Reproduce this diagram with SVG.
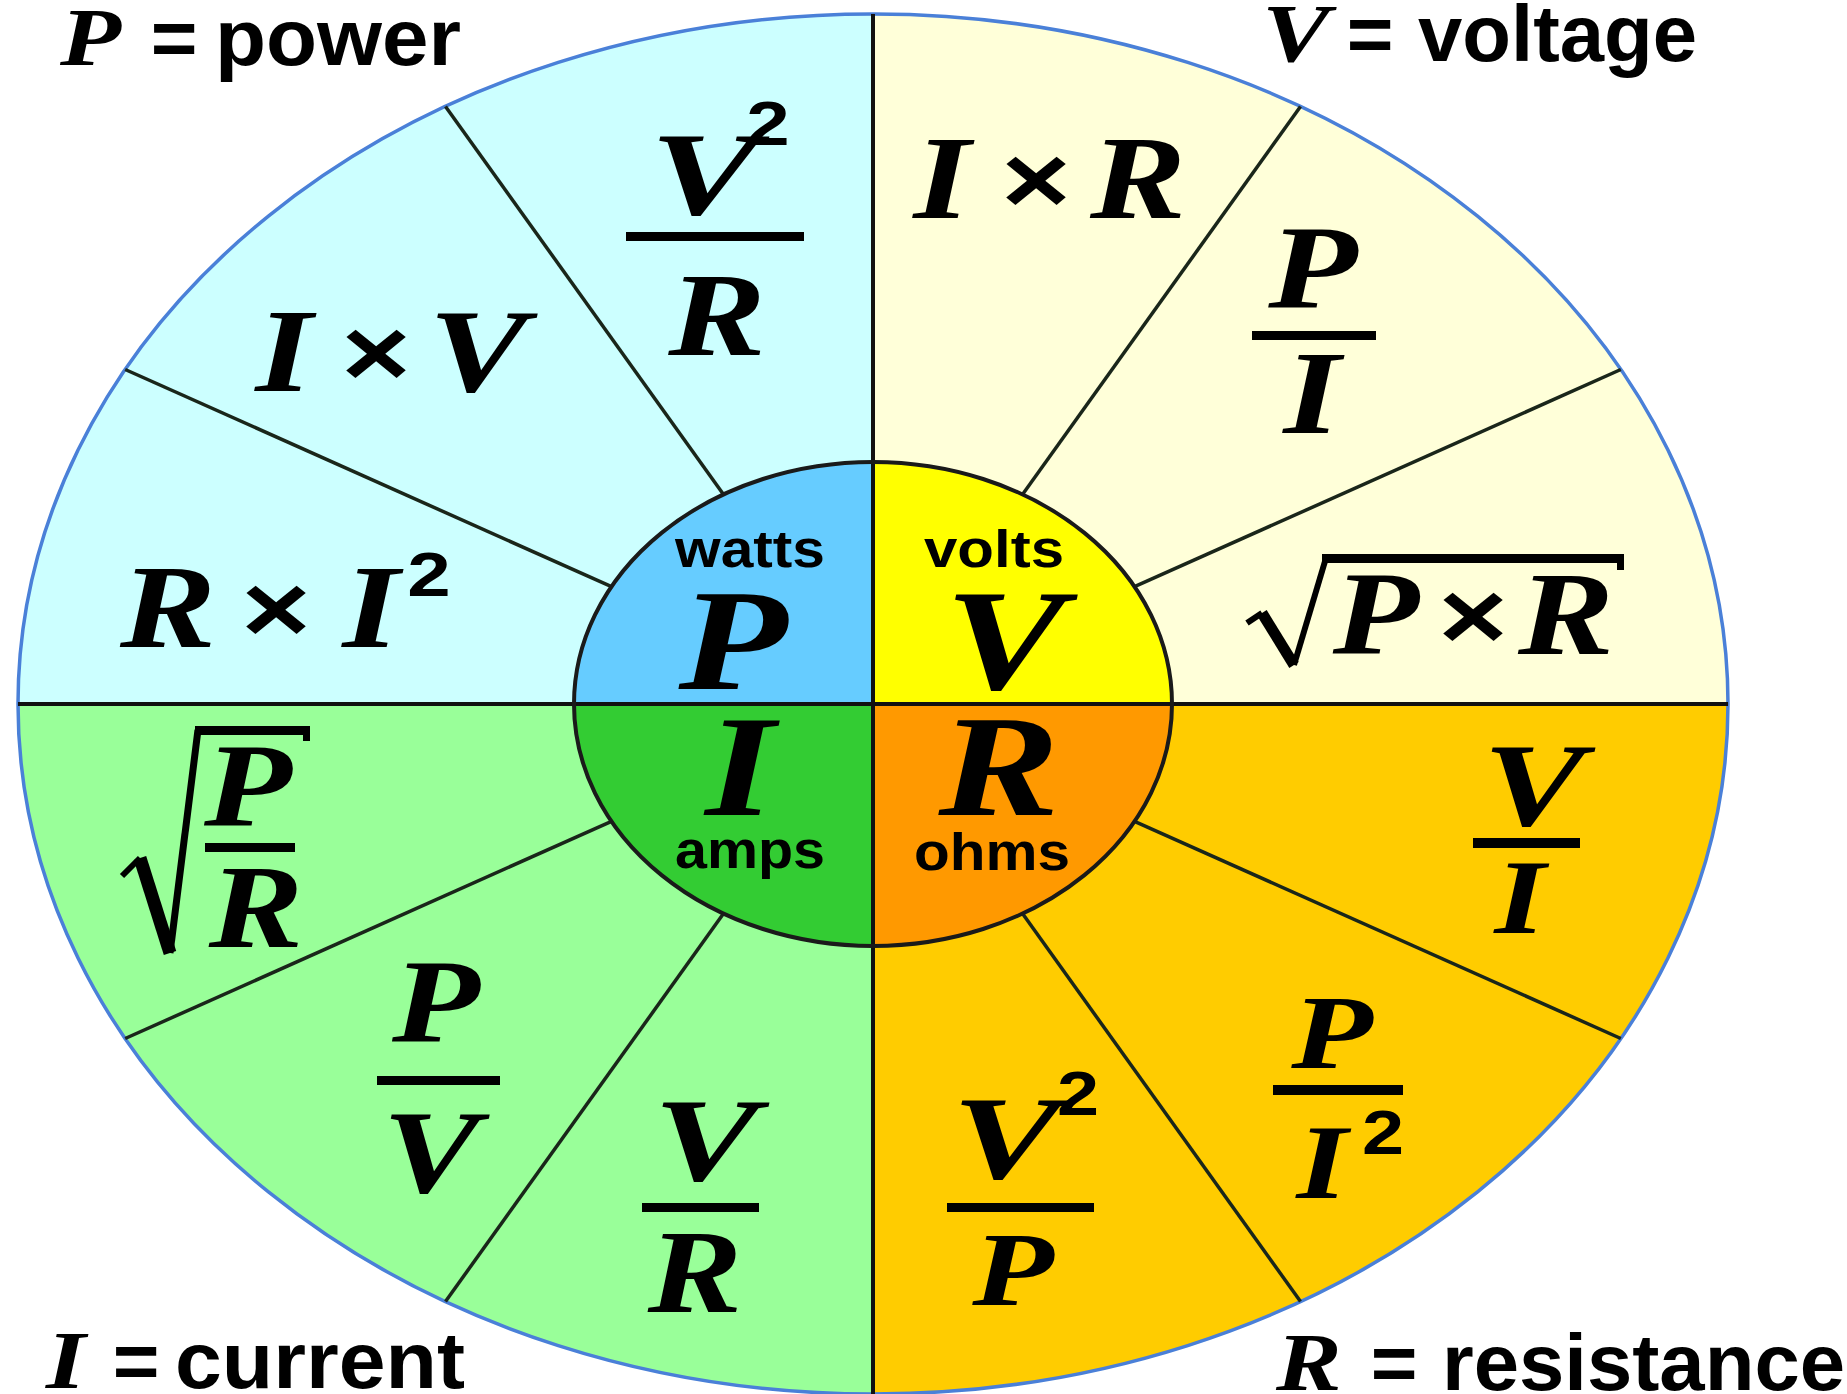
<svg xmlns="http://www.w3.org/2000/svg" width="1847" height="1394" viewBox="0 0 1847 1394">
<style>
.f{font-family:"Liberation Serif","Times New Roman",serif;font-weight:bold;font-style:italic;font-size:118px;text-anchor:middle;fill:#000}
.big{font-size:144px}
.sm{font-size:106px}
.op{font-family:"Liberation Sans",Arial,sans-serif;font-weight:bold;font-size:96px;text-anchor:middle;fill:#000}
.sup{font-family:"Liberation Sans",Arial,sans-serif;font-weight:bold;font-size:63px;text-anchor:middle;fill:#000}
.unit{font-family:"Liberation Sans",Arial,sans-serif;font-weight:bold;font-size:51px;text-anchor:middle;fill:#000}
.lbl{font-family:"Liberation Sans",Arial,sans-serif;font-weight:bold;font-size:80px;fill:#000}
.lv{font-family:"Liberation Serif","Times New Roman",serif;font-weight:bold;font-style:italic;font-size:82px;fill:#000}
.bar{fill:#000}
.spoke{stroke:#1a261a;stroke-width:3.5;fill:none}
.axis{stroke:#111;stroke-width:4;fill:none}
.rad{stroke:#000;fill:none;stroke-linejoin:miter;stroke-linecap:butt}
</style>
<rect width="1847" height="1394" fill="#fff"/>
<g id="outer-sectors">
<path d="M873,704 L18,704 A855,690 0 0 1 873,14 Z" fill="#ccffff"/>
<path d="M873,704 L873,14 A855,690 0 0 1 1728,704 Z" fill="#ffffd9"/>
<path d="M873,704 L1728,704 A855,690 0 0 1 873,1394 Z" fill="#ffcc00"/>
<path d="M873,704 L873,1394 A855,690 0 0 1 18,704 Z" fill="#99ff99"/>
<ellipse cx="873" cy="704" rx="855" ry="690" fill="none" stroke="#4a80d8" stroke-width="3.5"/>
</g>
<g id="connectors">
<line class="spoke" x1="1134.5" y1="586.7" x2="1620.8" y2="369.5"/>
<line class="spoke" x1="1022.5" y1="494.4" x2="1300.5" y2="106.5"/>
<line class="spoke" x1="723.5" y1="494.4" x2="445.5" y2="106.5"/>
<line class="spoke" x1="611.5" y1="586.7" x2="125.2" y2="369.5"/>
<line class="spoke" x1="611.5" y1="821.3" x2="125.2" y2="1038.5"/>
<line class="spoke" x1="723.5" y1="913.6" x2="445.5" y2="1301.5"/>
<line class="spoke" x1="1022.5" y1="913.6" x2="1300.5" y2="1301.5"/>
<line class="spoke" x1="1134.5" y1="821.3" x2="1620.8" y2="1038.5"/>
<line class="axis" x1="873" y1="14" x2="873" y2="1394"/>
<line class="axis" x1="18" y1="704" x2="1728" y2="704"/>
</g>
<g id="hub">
<path d="M873,704 L574,704 A299,242 0 0 1 873,462 Z" fill="#66ccff"/>
<path d="M873,704 L873,462 A299,242 0 0 1 1172,704 Z" fill="#ffff00"/>
<path d="M873,704 L1172,704 A299,242 0 0 1 873,946 Z" fill="#ff9900"/>
<path d="M873,704 L873,946 A299,242 0 0 1 574,704 Z" fill="#33cc33"/>
<line class="axis" x1="873" y1="462" x2="873" y2="946"/>
<line class="axis" x1="574" y1="704" x2="1172" y2="704"/>
<ellipse cx="873" cy="704" rx="299" ry="242" fill="none" stroke="#1a1a1a" stroke-width="4"/>
</g>
<g id="node-P">
<text class="unit" x="750" y="567" textLength="150" lengthAdjust="spacingAndGlyphs">watts</text>
<text class="f big" transform="translate(733 689) scale(1.24 1)">P</text>
</g>
<g id="node-V">
<text class="unit" x="994" y="567" textLength="140" lengthAdjust="spacingAndGlyphs">volts</text>
<text class="f big" transform="translate(1005 689) scale(1.26 1)">V</text>
</g>
<g id="node-I">
<text class="f big" transform="translate(740 815) scale(1.24 1)">I</text>
<text class="unit" x="750" y="868" textLength="150" lengthAdjust="spacingAndGlyphs">amps</text>
</g>
<g id="node-R">
<text class="f big" transform="translate(999 815) scale(1.26 1)">R</text>
<text class="unit" x="992" y="870" textLength="156" lengthAdjust="spacingAndGlyphs">ohms</text>
</g>
<g id="formula-V2-over-R">
<text class="f" transform="translate(704 214) scale(1.38 1)">V</text>
<text class="sup" transform="translate(768 145) scale(1.24 1)">2</text>
<rect class="bar" x="626" y="232" width="178" height="9"/>
<text class="f" transform="translate(717 355) scale(1.24 1)">R</text>
</g>
<g id="formula-I-times-V">
<text class="f" transform="translate(284 391) scale(1.24 1)">I</text>
<text class="op" transform="translate(376 386) scale(1.24 1)">×</text>
<text class="f" transform="translate(478 391) scale(1.26 1)">V</text>
</g>
<g id="formula-R-times-I2">
<text class="f" transform="translate(168 647) scale(1.22 1)">R</text>
<text class="op" transform="translate(276 642) scale(1.24 1)">×</text>
<text class="f" transform="translate(371 647) scale(1.24 1)">I</text>
<text class="sup" transform="translate(429 596) scale(1.24 1)">2</text>
</g>
<g id="formula-I-times-R">
<text class="f" transform="translate(942 218) scale(1.24 1)">I</text>
<text class="op" transform="translate(1036 213) scale(1.24 1)">×</text>
<text class="f" transform="translate(1138 218) scale(1.22 1)">R</text>
</g>
<g id="formula-P-over-I">
<text class="f" transform="translate(1313 308) scale(1.24 1)">P</text>
<rect class="bar" x="1252" y="331" width="124" height="9"/>
<text class="f" transform="translate(1312 433) scale(1.24 1)">I</text>
</g>
<g id="formula-sqrt-P-times-R">
<path class="rad" d="M1247,623 L1262,613" stroke-width="6"/>
<path class="rad" d="M1262,613 L1294,665" stroke-width="11"/>
<path class="rad" d="M1294,665 L1326,558" stroke-width="6"/>
<rect class="bar" x="1322" y="554" width="302" height="9"/>
<rect class="bar" x="1617" y="554" width="7" height="16"/>
<text class="f" transform="translate(1376 654) scale(1.2 1)">P</text>
<text class="op" transform="translate(1473 649) scale(1.24 1)">×</text>
<text class="f" transform="translate(1566 654) scale(1.22 1)">R</text>
</g>
<g id="formula-sqrt-P-over-R">
<path class="rad" d="M122,876 L140,858" stroke-width="6"/>
<path class="rad" d="M140,858 L170,953" stroke-width="13"/>
<path class="rad" d="M170,953 L198,730" stroke-width="7"/>
<rect class="bar" x="195" y="726" width="115" height="9"/>
<rect class="bar" x="303" y="726" width="7" height="15"/>
<text class="f" transform="translate(248 826) scale(1.22 1)">P</text>
<rect class="bar" x="205" y="843" width="90" height="9"/>
<text class="f" transform="translate(256 947) scale(1.2 1)">R</text>
</g>
<g id="formula-P-over-V">
<text class="f" transform="translate(436 1042) scale(1.22 1)">P</text>
<rect class="bar" x="377" y="1076" width="123" height="9"/>
<text class="f" transform="translate(431 1192) scale(1.24 1)">V</text>
</g>
<g id="formula-V-over-R">
<text class="f" transform="translate(706 1180) scale(1.34 1)">V</text>
<rect class="bar" x="642" y="1203" width="117" height="9"/>
<text class="f" transform="translate(695 1312) scale(1.2 1)">R</text>
</g>
<g id="formula-V-over-I">
<text class="f" transform="translate(1534 825) scale(1.3 1)">V</text>
<rect class="bar" x="1473" y="838" width="107" height="10"/>
<text class="f sm" transform="translate(1520 933) scale(1.24 1)">I</text>
</g>
<g id="formula-P-over-I2">
<text class="f sm" transform="translate(1332 1068) scale(1.26 1)">P</text>
<rect class="bar" x="1273" y="1085" width="130" height="10"/>
<text class="f sm" transform="translate(1322 1198) scale(1.24 1)">I</text>
<text class="sup" transform="translate(1383 1154) scale(1.2 1)">2</text>
</g>
<g id="formula-V2-over-P">
<text class="f" transform="translate(1006 1178) scale(1.38 1)">V</text>
<text class="sup" transform="translate(1078 1115) scale(1.2 1)">2</text>
<rect class="bar" x="947" y="1203" width="147" height="9"/>
<text class="f sm" transform="translate(1013 1305) scale(1.26 1)">P</text>
</g>
<g id="legend">
<text class="lv" transform="translate(60 65) scale(1.22 1)">P</text>
<text class="lbl" x="174" y="65" text-anchor="middle">=</text>
<text class="lbl" x="215" y="65" textLength="246" lengthAdjust="spacingAndGlyphs">power</text>
<text class="lv" transform="translate(1262 61) scale(1.24 1)">V</text>
<text class="lbl" x="1370" y="61" text-anchor="middle">=</text>
<text class="lbl" x="1418" y="61" textLength="279" lengthAdjust="spacingAndGlyphs">voltage</text>
<text class="lv" transform="translate(46 1388) scale(1.24 1)">I</text>
<text class="lbl" x="136" y="1388" text-anchor="middle">=</text>
<text class="lbl" x="175" y="1388" textLength="290" lengthAdjust="spacingAndGlyphs">current</text>
<text class="lv" transform="translate(1276 1390) scale(1.2 1)">R</text>
<text class="lbl" x="1394" y="1390" text-anchor="middle">=</text>
<text class="lbl" x="1442" y="1390" textLength="403" lengthAdjust="spacingAndGlyphs">resistance</text>
</g>
</svg>
